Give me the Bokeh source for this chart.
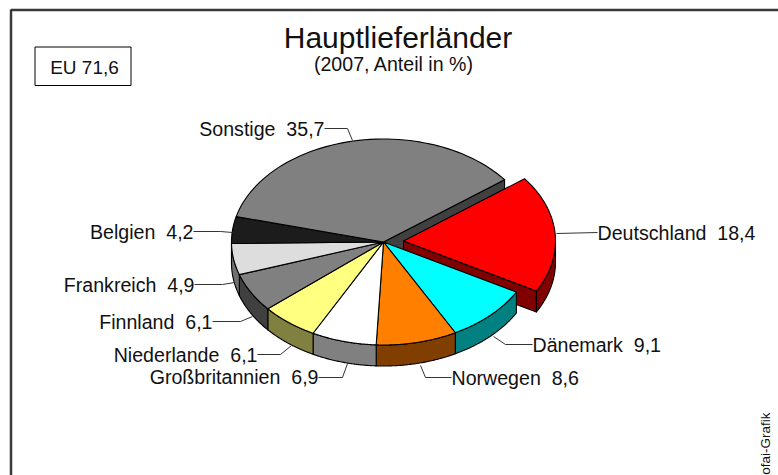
import math
from bokeh.plotting import figure
from bokeh.models import Range1d
from bokeh.embed import file_html
from bokeh.resources import INLINE
from bokeh.core.properties import value

countries = ["Deutschland", "Dänemark", "Norwegen", "Großbritannien", "Niederlande", "Finnland", "Frankreich", "Belgien", "Sonstige"]
shares = [18.4, 9.1, 8.6, 6.9, 6.1, 6.1, 4.9, 4.2, 35.7]
shares_text = ["18,4", "9,1", "8,6", "6,9", "6,1", "6,1", "4,9", "4,2", "35,7"]
top_colors = ["#ff0000", "#00ffff", "#ff7f00", "#ffffff", "#ffff80", "#808080", "#dddddd", "#1c1c1c", "#808080"]
side_colors = ["#800000", "#008080", "#803f00", "#808080", "#808040", "#404040", "#707070", "#0e0e0e", "#404040"]
title = "Hauptlieferländer"
subtitle = "(2007, Anteil in %)"
box_label = "EU 71,6"
credit = "ofai-Grafik"

CX, CY, RX, RY, DEPTH = 383, 241.5, 152, 103, 21
START = 52.8
EXPLODE_DX, EXPLODE_DY = 20, -1
label_layout = {
    "Deutschland": (597, 232, "left", [(556, 233), (597, 232)]),
    "Dänemark": (532, 344, "left", [(493, 336), (505, 344), (532, 344)]),
    "Norwegen": (451, 377, "left", [(420, 365), (425, 377), (451, 377)]),
    "Großbritannien": (318, 376, "right", [(347, 363), (342, 377), (318, 377)]),
    "Niederlande": (257, 354, "right", [(291, 345), (280, 354), (257, 354)]),
    "Finnland": (212, 321, "right", [(252, 316), (240, 321), (212, 321)]),
    "Frankreich": (194, 284, "right", [(234, 282), (222, 284), (194, 284)]),
    "Belgien": (193, 231, "right", [(232, 232), (220, 231), (193, 231)]),
    "Sonstige": (324, 128, "right", [(352, 140), (347, 128), (324, 128)]),
}

p = figure(width=778, height=475, output_backend="svg", toolbar_location=None,
           x_range=Range1d(0, 778), y_range=Range1d(475, 0),
           min_border=0, min_border_left=0, min_border_right=0, min_border_top=0, min_border_bottom=0,
           background_fill_color="white", outline_line_color=None)
p.axis.visible = False
p.grid.visible = False

FONT = value("Liberation Sans")

# frame: open on the right and at the bottom
for colour, w in (("#9a9a9a", 3), ("#1a1a1a", 1.5)):
    p.line([10.5, 10.5, 790], [490, 9.5, 9.5], line_color=colour, line_width=w)


def pt(cx, cy, deg):
    r = math.radians(deg)
    return cx + RX * math.sin(r), cy - RY * math.cos(r)


angles = []
a = START
for s in shares:
    angles.append((a, a + s * 3.6))
    a += s * 3.6


def arc(cx, cy, a0, a1, n=60):
    return [pt(cx, cy, a0 + (a1 - a0) * i / n) for i in range(n + 1)]


def poly(points, fill):
    p.patch([q[0] for q in points], [q[1] for q in points], fill_color=fill,
            line_color="black", line_width=1.1, line_join="round")


def side(i, cx, cy):
    a0, a1 = max(angles[i][0], 90), min(angles[i][1], 270)
    if a1 <= a0:
        return
    up = arc(cx, cy, a0, a1)
    poly(up + [(x, y + DEPTH) for x, y in reversed(up)], side_colors[i])


def top(i, cx, cy):
    a0, a1 = angles[i]
    poly([(cx, cy)] + arc(cx, cy, a0, a1), top_colors[i])


ex, ey = pt(CX, CY, START)
poly([(CX, CY), (ex, ey), (ex, ey + DEPTH), (CX, CY + DEPTH)], side_colors[8])

DX, DY = CX + EXPLODE_DX, CY + EXPLODE_DY
ax, ay = pt(DX, DY, angles[0][1])
poly([(DX, DY), (ax, ay), (ax, ay + DEPTH), (DX, DY + DEPTH)], side_colors[0])
side(0, DX, DY)
top(0, DX, DY)

for i in range(1, len(shares)):
    side(i, CX, CY)
for i in range(1, len(shares)):
    top(i, CX, CY)

for i, name in enumerate(countries):
    lx, ly, align, path = label_layout[name]
    p.line([q[0] for q in path], [q[1] for q in path], line_color="#333333", line_width=1)
    p.text([lx], [ly], text=[f"{name}\u00a0\u00a0{shares_text[i]}"], text_font=FONT, text_font_size="19.6px",
           text_align=align, text_baseline="middle", text_color="#111111")

p.text([397.5], [37], text=[title], text_font=FONT, text_font_size="30px", text_align="center",
       text_baseline="middle", text_color="#111111")
p.text([393.5], [63], text=[subtitle], text_font=FONT, text_font_size="19.6px", text_align="center",
       text_baseline="middle", text_color="#111111")

p.patch([34.5, 130.5, 130.5, 34.5], [46.5, 46.5, 85, 85], fill_color="white", line_color="black", line_width=1)
p.text([84], [67], text=[box_label], text_font=FONT, text_font_size="19px", text_align="center",
       text_baseline="middle", text_color="#111111")

p.text([765], [412], text=[credit], text_font=FONT, text_font_size="13.5px", angle=math.pi / 2,
       text_align="right", text_baseline="middle", text_color="#111111")

open("out.html", "w").write(file_html(p, INLINE))
